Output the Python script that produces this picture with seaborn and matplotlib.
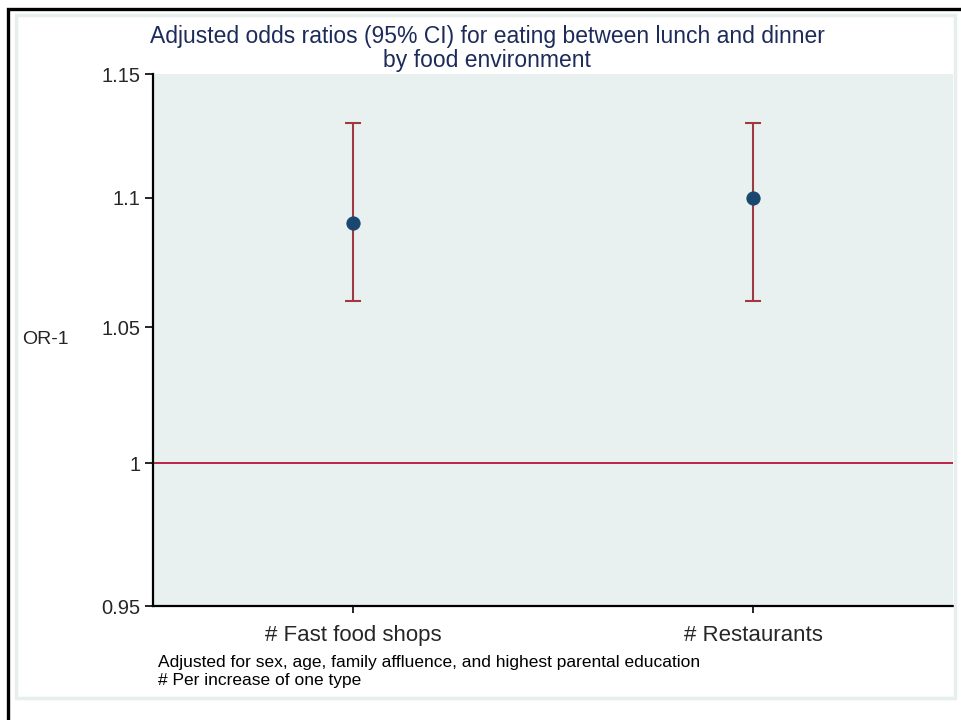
import matplotlib
matplotlib.use("Agg")
import matplotlib.pyplot as plt
import matplotlib.patches as mpatches
import matplotlib.ticker as mticker
import seaborn as sns
import pandas as pd

# data
categories = ["# Fast food shops", "# Restaurants"]
odds_ratio = [1.09, 1.10]
ci_lower = [1.06, 1.06]
ci_upper = [1.13, 1.13]
y_ticks = [0.95, 1.0, 1.05, 1.1, 1.15]
y_tick_labels = ["0.95", "1", "1.05", "1.1", "1.15"]

df = pd.DataFrame({"cat": categories, "or": odds_ratio})

sns.set_style("white")
plt.rcParams["font.family"] = ["Liberation Sans", "DejaVu Sans"]

fig = plt.figure(figsize=(9.62, 7.2), dpi=100)
W, H = 962, 720

# outer black frame (only left/top visible)
fig.patches.append(mpatches.Rectangle((8 / W, -0.05), 1.2, 1 - 9 / H + 0.05,
                                      transform=fig.transFigure, fill=False,
                                      edgecolor="black", lw=2.4, zorder=0))
# light graph-region outline
fig.patches.append(mpatches.Rectangle((16 / W, 1 - 698 / H), (955 - 16) / W, (698 - 15) / H,
                                      transform=fig.transFigure, fill=False,
                                      edgecolor="#e6eeee", lw=2.5, zorder=0))

ax = fig.add_axes([153 / W, 1 - 606 / H, (953 - 153) / W, (606 - 74) / H])
ax.set_facecolor("#e8f0f0")

ax.set_yscale("log")
ax.axhline(1.0, color="#b5143c", lw=1.3, zorder=1)

x = list(range(len(categories)))
ax.errorbar(x, odds_ratio,
            yerr=[[o - l for o, l in zip(odds_ratio, ci_lower)],
                  [u - o for o, u in zip(odds_ratio, ci_upper)]],
            fmt="none", ecolor="#9e3a40", elinewidth=1.5, capsize=5.5, capthick=1.5, zorder=2)
sns.scatterplot(data=df, x="cat", y="or", ax=ax, color="#1a476f", s=90,
                edgecolor="#1a476f", zorder=3, legend=False)

ax.set_xlim(-0.5, 1.5)
ax.set_ylim(0.95, 1.15)
ax.yaxis.set_major_locator(mticker.FixedLocator(y_ticks))
ax.yaxis.set_minor_locator(mticker.NullLocator())
ax.set_yticklabels(y_tick_labels)
ax.set_xticks(x)
ax.set_xticklabels(categories)

for s in ["top", "right"]:
    ax.spines[s].set_visible(False)
for s in ["left", "bottom"]:
    ax.spines[s].set_color("black")
    ax.spines[s].set_linewidth(1.6)

ax.tick_params(axis="y", direction="out", length=6, width=1.2, color="black",
               labelsize=14.5, pad=3, left=True)
ax.tick_params(axis="x", direction="out", length=5, width=1.2, color="black",
               labelsize=16, pad=9, bottom=True)

ax.set_xlabel("")
ax.set_ylabel("OR-1", rotation=0, fontsize=14, labelpad=0)
ax.yaxis.set_label_coords(22 / W, 1 - 340 / H, transform=fig.transFigure)
ax.yaxis.label.set_verticalalignment("center")
ax.yaxis.label.set_horizontalalignment("left")

fig.text(487 / W, 1 - 37 / H, "Adjusted odds ratios (95% CI) for eating between lunch and dinner",
         ha="center", va="center", fontsize=16.5, color="#1c2b59")
fig.text(487 / W, 1 - 60 / H, "by food environment",
         ha="center", va="center", fontsize=16.5, color="#1c2b59")

fig.text(158 / W, 1 - 663 / H, "Adjusted for sex, age, family affluence, and highest parental education",
         ha="left", va="center", fontsize=12.5, color="black")
fig.text(158 / W, 1 - 681 / H, "# Per increase of one type",
         ha="left", va="center", fontsize=12.5, color="black")

fig.savefig("out.png", dpi=100)
